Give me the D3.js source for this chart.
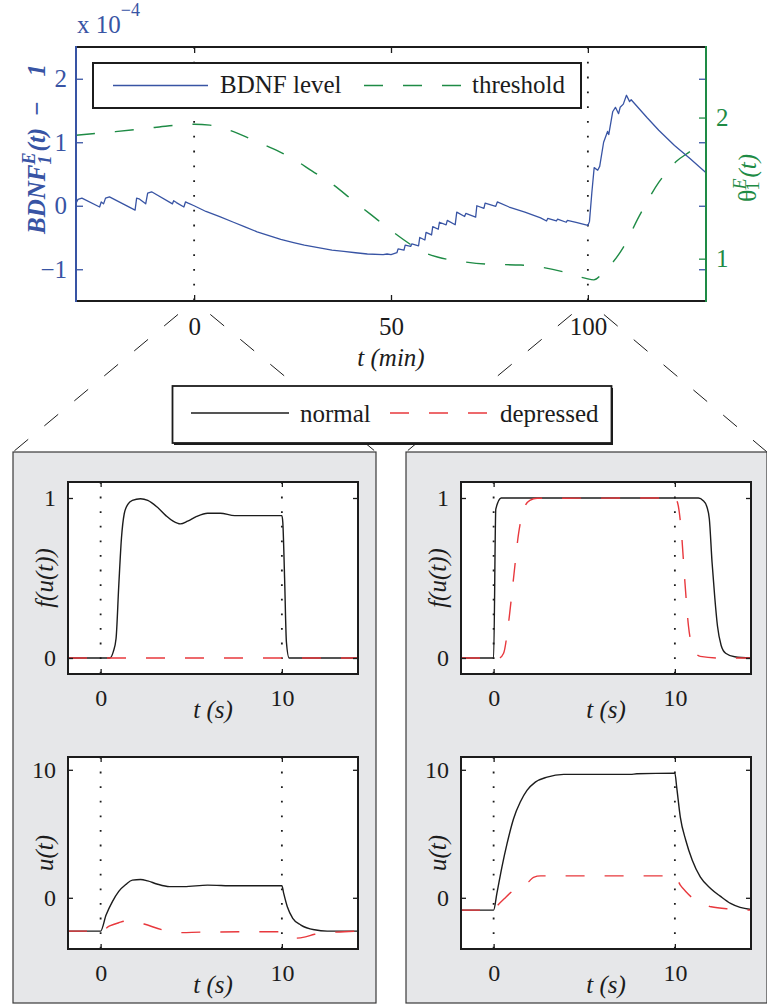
<!DOCTYPE html>
<html>
<head>
<meta charset="utf-8">
<script src="https://cdn.jsdelivr.net/npm/d3@7"></script>
<style>
body{margin:0;background:#fff}
svg{display:block;font-family:"Liberation Serif","Times New Roman",serif}
</style>
</head>
<body>
<div id="chart-area"></div>
<script>
// *********************
// Data
// *********************

// BDNF level (x 1e-4) against time in minutes, [t, value]
const bdnfLevel = [
	[-30,0.04],[-29.5,0.1],[-28.5,0.12],[-24,-0.02],[-23.6,0.06],[-23,0.03],[-22.5,0.12],[-21.5,0.14],
	[-15,-0.07],[-14.6,0.12],[-14,0.11],[-12.3,0.03],[-11.8,0.2],[-10.8,0.22],[-5.5,0.03],[-5.2,0.08],
	[-4.5,0.05],[-2.6,-0.02],[-2.2,0.06],[-1.5,0.04],[0,0.0],[3,-0.09],[6.5,-0.17],[10,-0.26],
	[12.75,-0.33],[16,-0.41],[19,-0.47],[22,-0.53],[25.25,-0.58],[28,-0.62],[31.5,-0.66],[35,-0.7],
	[38,-0.72],[41,-0.74],[44,-0.76],[48,-0.77],[49,-0.76],[50,-0.77],[51.5,-0.74],[51.8,-0.68],
	[53.3,-0.7],[53.6,-0.62],[55,-0.64],[55.3,-0.6],[57,-0.63],[57.3,-0.5],[58.6,-0.54],[58.9,-0.42],
	[60.3,-0.46],[60.6,-0.33],[62,-0.37],[62.3,-0.26],[64,-0.3],[64.3,-0.23],[66.3,-0.3],[66.7,-0.1],
	[68.7,-0.17],[69,-0.12],[71.5,-0.18],[71.8,0.0],[73.6,-0.04],[73.9,0.04],[76.6,-0.01],[77,0.06],
	[80,-0.02],[84,-0.1],[88,-0.19],[89.5,-0.24],[89.8,-0.2],[92,-0.24],[92.3,-0.21],[94.5,-0.26],
	[94.8,-0.23],[97,-0.26],[100,-0.31],[100.4,-0.25],[101,0.2],[101.6,0.6],[102.5,0.56],[103,0.62],
	[104,1.0],[105,1.17],[105.3,1.12],[106.3,1.48],[107,1.55],[107.8,1.45],[108.2,1.55],[109,1.6],
	[109.8,1.74],[110.6,1.64],[111,1.67],[115,1.39],[118,1.19],[122,0.95],[126,0.74],[130,0.52]
];

// threshold theta against time in minutes, [t, value]
const threshold = [
	[-30,1.875],[-20,1.9],[-10,1.93],[0,1.953],[4,1.946],[10,1.9],[15,1.84],[20,1.78],[25,1.71],
	[30,1.62],[35,1.53],[40,1.42],[45,1.31],[50,1.2],[55,1.1],[58,1.05],[62,1.01],[68,0.98],
	[75,0.96],[83,0.955],[88,0.94],[94,0.905],[99.5,0.86],[101.5,0.85],[104,0.905],[109,1.08],
	[113,1.3],[118,1.54],[122.5,1.69],[126,1.76],[130,1.84]
];

// zoomed panels, time in seconds, [t, value]
const leftFNormal = [
	[-1.8,0],[0.5,0],[0.7,0.04],[0.85,0.12],[1.0,0.45],[1.15,0.75],[1.3,0.9],[1.5,0.96],[1.75,0.985],
	[2.2,0.995],[2.6,0.985],[3.1,0.945],[3.6,0.89],[4.0,0.855],[4.4,0.838],[4.8,0.855],[5.3,0.885],
	[5.9,0.905],[6.6,0.905],[7.4,0.89],[10,0.89],[10.05,0.85],[10.15,0.5],[10.25,0.1],[10.4,0],[14.2,0]
];
const leftFDepressed = [[-1.8,0],[0,0],[10,0],[14.2,0]];

const rightFNormal = [
	[-1.8,0],[0,0],[0.12,0.93],[0.42,1.0],[11.3,1.0],[11.55,0.985],[11.75,0.95],[11.9,0.87],
	[12.05,0.6],[12.2,0.38],[12.35,0.2],[12.55,0.08],[12.8,0.03],[13.3,0.008],[14.2,0]
];
const rightFDepressed = [
	[-1.8,0],[0.3,0],[0.55,0.03],[0.8,0.2],[1.1,0.5],[1.38,0.78],[1.66,0.93],[2.0,0.985],[2.4,0.998],
	[10,1],[10.15,0.97],[10.35,0.8],[10.55,0.48],[10.75,0.2],[11.0,0.06],[11.4,0.01],[12.5,0],[14.2,0]
];

const leftUNormal = [
	[-1.8,-2.6],[0,-2.6],[0.3,-1.35],[0.65,-0.3],[1.0,0.5],[1.4,1.05],[1.75,1.38],[2.2,1.43],[2.6,1.32],
	[3.1,1.08],[3.8,0.87],[4.6,0.87],[5.9,0.99],[7.4,0.94],[10,0.94],[10.1,0.35],[10.3,-0.7],
	[10.6,-1.6],[11.05,-2.13],[11.8,-2.5],[12.5,-2.6],[14.2,-2.6]
];
const leftUDepressed = [
	[-1.8,-2.6],[0,-2.6],[0.5,-2.2],[1.0,-1.95],[1.35,-1.82],[1.8,-1.85],[2.4,-2.05],[3.4,-2.5],
	[4.5,-2.72],[5.5,-2.68],[10,-2.65],[10.4,-2.95],[10.8,-3.15],[11.3,-3.05],[11.8,-2.85],[13,-2.68],[14.2,-2.6]
];

const rightUNormal = [
	[-1.8,-0.96],[0,-0.96],[0.18,0.34],[0.46,2.42],[0.74,4.23],[1.1,6.18],[1.47,7.48],[1.84,8.39],
	[2.3,9.04],[2.95,9.43],[3.87,9.64],[7.55,9.64],[7.9,9.69],[10,9.74],[10.1,8.65],[10.3,6.3],
	[10.6,4.5],[10.96,2.94],[11.4,1.64],[11.97,0.73],[12.5,0.13],[13.07,-0.44],[13.6,-0.75],[14.2,-0.91]
];
const rightUDepressed = [
	[-1.8,-0.96],[0,-0.96],[0.18,-0.65],[0.6,-0.05],[1.0,0.47],[1.5,0.85],[1.93,1.25],[2.2,1.6],
	[2.6,1.71],[3.1,1.71],[10,1.71],[10.3,0.99],[10.6,0.5],[10.96,0.0],[11.5,-0.4],[12,-0.7],
	[13.07,-0.88],[14.2,-0.96]
];

// tick values
const minuteTicks = [0,50,100];
const bdnfTicks = [-1,0,1,2];
const thetaTicks = [1,2];
const secondTicks = [0,10];
const fTicks = [0,1];
const uTicks = [0,10];

// *********************
// Basic setup SVG
// *********************

const width = 767;
const height = 1007;

const blue = "#3854a4";
const green = "#1e8b45";
const red = "#e8383d";
const ink = "#1c1c1c";
const fmt = d3.format("d");

const svg = d3.select("#chart-area")
	.append("svg")
	.attr("width", width)
	.attr("height", height);

svg.append("rect")
	.attr("width", "100%")
	.attr("height", "100%")
	.attr("fill", "white");

// *********************
// Top chart
// *********************

const mainBox = {left: 76, right: 706, top: 47, bottom: 301};

const xMin = d3.scaleLinear().domain([-30,130]).range([mainBox.left, mainBox.right]);
const yBdnf = d3.scaleLinear().domain([-1.5,2.5]).range([mainBox.bottom, mainBox.top]);
const yTheta = d3.scaleLinear().domain([0.7,2.5]).range([mainBox.bottom, mainBox.top]);

const topG = svg.append("g");

// dotted markers at the stimulus times
topG.selectAll(".mark")
	.data([0,100])
	.enter().append("line")
	.attr("x1", d => xMin(d)).attr("x2", d => xMin(d))
	.attr("y1", mainBox.top).attr("y2", mainBox.bottom)
	.attr("stroke", ink)
	.attr("stroke-width", 1.8)
	.attr("stroke-dasharray", "1.8,13");

topG.append("path")
	.datum(threshold)
	.attr("fill", "none")
	.attr("stroke", green)
	.attr("stroke-width", 1.4)
	.attr("stroke-dasharray", "19,20")
	.attr("d", d3.line().x(d => xMin(d[0])).y(d => yTheta(d[1])).curve(d3.curveMonotoneX));

topG.append("path")
	.datum(bdnfLevel)
	.attr("fill", "none")
	.attr("stroke", blue)
	.attr("stroke-width", 1.3)
	.attr("stroke-linejoin", "round")
	.attr("d", d3.line().x(d => xMin(d[0])).y(d => yBdnf(d[1])));

// axes
const xAxisB = topG.append("g")
	.attr("transform", "translate(0," + mainBox.bottom + ")")
	.call(d3.axisBottom(xMin).tickValues(minuteTicks).tickFormat(fmt).tickSize(-6).tickPadding(16));
const xAxisT = topG.append("g")
	.attr("transform", "translate(0," + mainBox.top + ")")
	.call(d3.axisTop(xMin).tickValues(minuteTicks).tickSize(-6).tickFormat(""));
const yAxisL = topG.append("g")
	.attr("transform", "translate(" + mainBox.left + ",0)")
	.call(d3.axisLeft(yBdnf).tickValues(bdnfTicks).tickFormat(fmt).tickSize(-7).tickPadding(9));
const yAxisR1 = topG.append("g")
	.attr("transform", "translate(" + mainBox.right + ",0)")
	.call(d3.axisRight(yBdnf).tickValues(bdnfTicks).tickSize(-7).tickFormat(""));
const yAxisR2 = topG.append("g")
	.attr("transform", "translate(" + mainBox.right + ",0)")
	.call(d3.axisRight(yTheta).tickValues(thetaTicks).tickFormat(fmt).tickSize(-7).tickPadding(10));

[xAxisB, xAxisT, yAxisL, yAxisR1, yAxisR2].forEach(a => a.attr("font-family", null).attr("font-size", 25));
topG.selectAll(".domain").remove();
[xAxisB, xAxisT].forEach(a => a.selectAll("line").attr("stroke", ink).attr("stroke-width", 1.3));
xAxisB.selectAll("text").attr("fill", ink);
[yAxisL, yAxisR1].forEach(a => a.selectAll("line").attr("stroke", blue).attr("stroke-width", 1.3));
yAxisL.selectAll("text").attr("fill", blue);
yAxisR2.selectAll("line").attr("stroke", green).attr("stroke-width", 1.3);
yAxisR2.selectAll("text").attr("fill", green);

// spines
const spine = (x1, y1, x2, y2, c) => topG.append("line")
	.attr("x1", x1).attr("y1", y1).attr("x2", x2).attr("y2", y2)
	.attr("stroke", c).attr("stroke-width", 2).attr("stroke-linecap", "square");
spine(mainBox.left, mainBox.top, mainBox.right, mainBox.top, ink);
spine(mainBox.left, mainBox.bottom, mainBox.right, mainBox.bottom, ink);
spine(mainBox.left, mainBox.top, mainBox.left, mainBox.bottom, blue);
spine(mainBox.right, mainBox.top, mainBox.right, mainBox.bottom, green);

// exponent label
const expo = topG.append("text").attr("fill", blue).attr("x", 77).attr("y", 33).attr("font-size", 25);
expo.append("tspan").text("x 10");
expo.append("tspan").attr("font-size", 18).attr("dy", -17).text("\u22124");

// axis labels
topG.append("text")
	.attr("x", (mainBox.left + mainBox.right) / 2)
	.attr("y", 366)
	.attr("text-anchor", "middle")
	.attr("font-size", 25)
	.attr("font-style", "italic")
	.attr("fill", ink)
	.text("t (min)");

const bdnfLabel = topG.append("text")
	.attr("transform", "translate(45,149) rotate(-90)")
	.attr("text-anchor", "middle")
	.attr("font-size", 25)
	.attr("font-style", "italic")
	.attr("font-weight", "bold")
	.attr("fill", blue);
bdnfLabel.append("tspan").text("BDNF");
bdnfLabel.append("tspan").attr("font-size", 18).attr("dy", -10).text("E");
bdnfLabel.append("tspan").attr("font-size", 18).attr("dx", -12).attr("dy", 16).text("1");
bdnfLabel.append("tspan").attr("dx", 4).attr("dy", -6).text("(t)");
bdnfLabel.append("tspan").attr("font-style", "normal").attr("dx", 12).text("\u2212");
bdnfLabel.append("tspan").attr("dx", 25).text("1");

const thetaLabel = topG.append("text")
	.attr("transform", "translate(756,178) rotate(-90)")
	.attr("text-anchor", "middle")
	.attr("font-size", 26)
	.attr("fill", green);
thetaLabel.append("tspan").text("\u03b8");
thetaLabel.append("tspan").attr("font-size", 18).attr("font-style", "italic").attr("dy", -10).text("E");
thetaLabel.append("tspan").attr("font-size", 18).attr("dx", -12).attr("dy", 13).text("1");
thetaLabel.append("tspan").attr("font-style", "italic").attr("font-size", 25).attr("dx", 4).attr("dy", -3).text("(t)");

// legend
const legend1 = topG.append("g");
legend1.append("rect")
	.attr("x", 93).attr("y", 63).attr("width", 488).attr("height", 45)
	.attr("fill", "white").attr("stroke", ink).attr("stroke-width", 2);
legend1.append("line")
	.attr("x1", 113).attr("x2", 208).attr("y1", 85.5).attr("y2", 85.5)
	.attr("stroke", blue).attr("stroke-width", 1.3);
legend1.append("text").attr("x", 220).attr("y", 93).attr("font-size", 25).attr("fill", ink).text("BDNF level");
legend1.append("line")
	.attr("x1", 364).attr("x2", 461).attr("y1", 85.5).attr("y2", 85.5)
	.attr("stroke", green).attr("stroke-width", 1.4).attr("stroke-dasharray", "19,20");
legend1.append("text").attr("x", 472).attr("y", 93).attr("font-size", 25).attr("fill", ink).text("threshold");

// *********************
// Zoom panels
// *********************

const panels = [
	{left: 13, right: 376, t: 0},
	{left: 406, right: 767, t: 100}
];
const panelTop = 452;
const panelBottom = 1003;

// magnifier lines from the stimulus times down to the panel corners
panels.forEach(p => {
	[p.left, p.right].forEach(cx => {
		svg.append("line")
			.attr("x1", xMin(p.t)).attr("y1", mainBox.bottom)
			.attr("x2", cx).attr("y2", panelTop)
			.attr("stroke", ink).attr("stroke-width", 1)
			.attr("stroke-dasharray", "18,21").attr("stroke-dashoffset", 18);
	});
	svg.append("rect")
		.attr("x", p.left).attr("y", panelTop)
		.attr("width", p.right - p.left).attr("height", panelBottom - panelTop)
		.attr("fill", "#e6e7e9").attr("stroke", "#3a3a3a").attr("stroke-width", 1.2);
});

// legend for the panels
const legend2 = svg.append("g");
legend2.append("rect")
	.attr("x", 174).attr("y", 388).attr("width", 439).attr("height", 57)
	.attr("fill", ink);
legend2.append("rect")
	.attr("x", 172.5).attr("y", 386).attr("width", 439).attr("height", 57)
	.attr("fill", "white").attr("stroke", ink).attr("stroke-width", 1.8);
legend2.append("line")
	.attr("x1", 191).attr("x2", 289).attr("y1", 413).attr("y2", 413)
	.attr("stroke", ink).attr("stroke-width", 1.4);
legend2.append("text").attr("x", 300).attr("y", 422).attr("font-size", 25).attr("fill", ink).text("normal");
legend2.append("line")
	.attr("x1", 390).attr("x2", 488).attr("y1", 413).attr("y2", 413)
	.attr("stroke", red).attr("stroke-width", 1.4).attr("stroke-dasharray", "19,20");
legend2.append("text").attr("x", 500).attr("y", 422).attr("font-size", 25).attr("fill", ink).text("depressed");

function subplot(x0, y0, yDomain, yTicks, yLabel, normal, depressed) {
	const w = 290, h = 192;
	const x = d3.scaleLinear().domain([-1.8,14.2]).range([x0, x0 + w]);
	const y = d3.scaleLinear().domain(yDomain).range([y0 + h, y0]);
	const g = svg.append("g");

	g.append("rect")
		.attr("x", x0).attr("y", y0).attr("width", w).attr("height", h)
		.attr("fill", "white");

	g.selectAll(".mark")
		.data(secondTicks)
		.enter().append("line")
		.attr("x1", d => x(d)).attr("x2", d => x(d))
		.attr("y1", y0).attr("y2", y0 + h)
		.attr("stroke", ink)
		.attr("stroke-width", 1.8)
		.attr("stroke-dasharray", "1.8,12.8");

	const line = d3.line().x(d => x(d[0])).y(d => y(d[1])).curve(d3.curveMonotoneX);

	g.append("path")
		.datum(normal)
		.attr("fill", "none")
		.attr("stroke", ink)
		.attr("stroke-width", 1.4)
		.attr("d", line);

	g.append("path")
		.datum(depressed)
		.attr("fill", "none")
		.attr("stroke", red)
		.attr("stroke-width", 1.4)
		.attr("stroke-dasharray", "19,20")
		.attr("d", line);

	const axes = [
		g.append("g")
			.attr("transform", "translate(0," + (y0 + h) + ")")
			.call(d3.axisBottom(x).tickValues(secondTicks).tickFormat(fmt).tickSize(-5).tickPadding(15)),
		g.append("g")
			.attr("transform", "translate(0," + y0 + ")")
			.call(d3.axisTop(x).tickValues(secondTicks).tickSize(-5).tickFormat("")),
		g.append("g")
			.attr("transform", "translate(" + x0 + ",0)")
			.call(d3.axisLeft(y).tickValues(yTicks).tickFormat(fmt).tickSize(-5).tickPadding(12)),
		g.append("g")
			.attr("transform", "translate(" + (x0 + w) + ",0)")
			.call(d3.axisRight(y).tickValues(yTicks).tickSize(-5).tickFormat(""))
	];
	axes.forEach(a => a.attr("font-family", null).attr("font-size", 24));

	g.selectAll(".domain").remove();
	g.selectAll(".tick line").attr("stroke", ink).attr("stroke-width", 1.3);
	g.selectAll(".tick text").attr("fill", ink);

	g.append("rect")
		.attr("x", x0).attr("y", y0).attr("width", w).attr("height", h)
		.attr("fill", "none").attr("stroke", ink).attr("stroke-width", 2);

	g.append("text")
		.attr("x", x0 + w / 2).attr("y", y0 + h + 44)
		.attr("text-anchor", "middle")
		.attr("font-size", 25).attr("font-style", "italic").attr("fill", ink)
		.text("t (s)");

	g.append("text")
		.attr("transform", "translate(" + (x0 - 15) + "," + (y0 + h / 2) + ") rotate(-90)")
		.attr("text-anchor", "middle")
		.attr("font-size", 25).attr("font-style", "italic").attr("fill", ink)
		.text(yLabel);
}

subplot(68, 482, [-0.1,1.1], fTicks, "f(u(t))", leftFNormal, leftFDepressed);
subplot(461, 482, [-0.1,1.1], fTicks, "f(u(t))", rightFNormal, rightFDepressed);
subplot(68, 757, [-4,11], uTicks, "u(t)", leftUNormal, leftUDepressed);
subplot(461, 757, [-4,11], uTicks, "u(t)", rightUNormal, rightUDepressed);
</script>
</body>
</html>
